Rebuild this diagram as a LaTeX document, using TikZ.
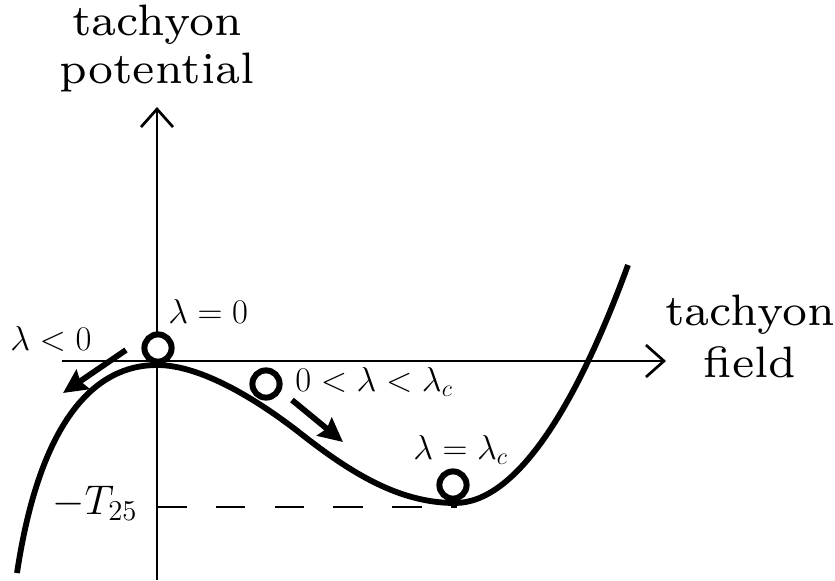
\documentclass[tikz,border=0pt]{standalone}
\usepackage{fontspec}
\newfontfamily\labrm{lmroman7-regular}[Extension=.otf]
\usetikzlibrary{arrows.meta}
\begin{document}
\begin{tikzpicture}[x=0.5pt,y=-0.5pt,
  axis/.style={line width=1.35pt,-{Straight Barb[length=9pt,width=16pt,line width=1.35pt]}},
  curve/.style={line width=2.9pt},
  ball/.style={circle,draw,line width=3pt,inner sep=0pt,minimum size=13.6pt,fill=white},
  move/.style={line width=2.9pt,-{Stealth[length=12pt,width=11.5pt,inset=1.5pt]}},
  lab/.style={font=\fontsize{16.4}{19}\selectfont,inner sep=0pt,anchor=base west},
  dash25/.style={line width=1.35pt,dash pattern=on 14.75pt off 14.65pt},
]
\useasboundingbox (0,0) rectangle (835,580);
% axes
\coordinate (vs) at (157,580);
\coordinate (ve) at (157,107);
\coordinate (hs) at (62,361);
\coordinate (he) at (666,361);
\draw[axis] (vs) -- (ve);
\draw[axis] (hs) -- (he);
% dashed level
\coordinate (ds) at (157,507);
\coordinate (de) at (457,507);
\draw[dash25] (ds) -- (de);
% potential curve
\draw[curve] (17,573) .. controls (40,420) and (95,365) .. (157,365)
  .. controls (200,365) and (255,398) .. (300,433)
  .. controls (352,474) and (400,503) .. (455,503)
  .. controls (515,503) and (575,410) .. (628,265);
% balls
\node[ball] (b0) at (158,348) {};
\node[ball] (b1) at (266,384) {};
\node[ball] (b2) at (453,485) {};
% motion arrows
\coordinate (m1s) at (126,350);
\coordinate (m1e) at (63,393);
\coordinate (m2s) at (292,400);
\coordinate (m2e) at (343,442);
\draw[move] (m1s) -- (m1e);
\draw[move] (m2s) -- (m2e);
% labels
\node[font=\labrm\fontsize{22}{24}\selectfont,inner sep=0pt,align=center,anchor=base] (yl) at (157,83) {tachyon\\potential};
\node[font=\labrm\fontsize{22}{26}\selectfont,inner sep=0pt,align=center,anchor=base] (xl) at (750,377) {tachyon\\field};
\node[lab] (l0) at (168,323) {$\lambda=0$};
\node[lab] (ln) at (10,350) {$\lambda<0$};
\node[lab] (lm) at (295,391) {$0<\lambda<\lambda_c$};
\node[lab] (lc) at (413,459) {$\lambda=\lambda_c$};
\node[font=\fontsize{21}{25}\selectfont,inner sep=0pt,anchor=base east] (lt) at (138,514) {$-T_{25}$};
\end{tikzpicture}
\end{document}
